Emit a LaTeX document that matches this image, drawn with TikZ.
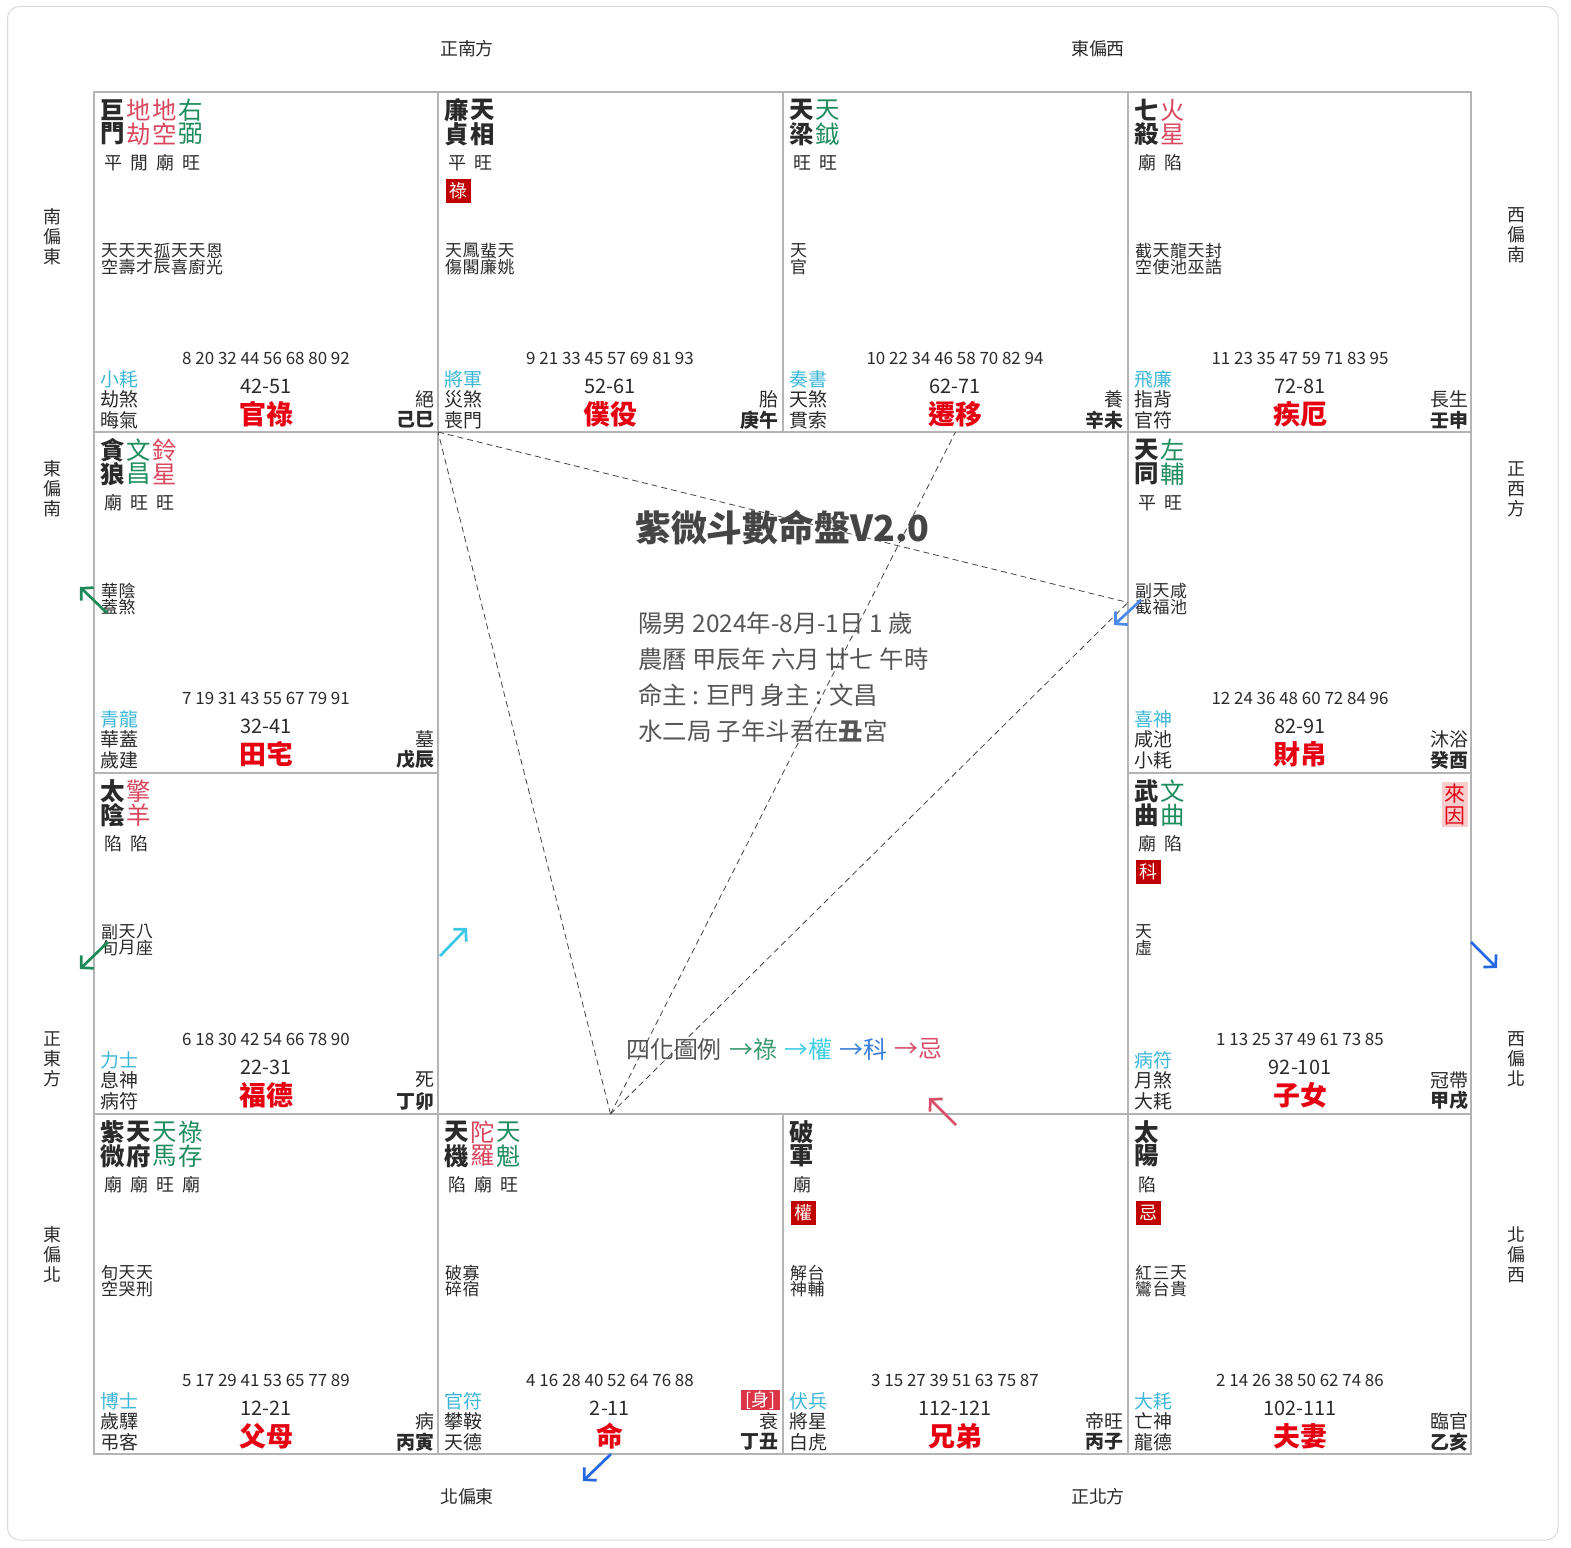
\documentclass[tikz,border=0pt]{standalone}
\usepackage{fontspec}
\setmainfont{Noto Sans CJK TC}
\usetikzlibrary{arrows.meta}
\definecolor{gridc}{HTML}{B4B4B4}
\definecolor{framec}{HTML}{DADADA}
\definecolor{txtc}{HTML}{2A2A2A}
\definecolor{badc}{HTML}{D9475F}
\definecolor{goodc}{HTML}{1E8C5C}
\definecolor{boshic}{HTML}{3DB6D6}
\definecolor{palc}{HTML}{E60012}
\definecolor{huac}{HTML}{C00000}
\definecolor{shenc}{HTML}{DC3545}
\definecolor{laiyinc}{HTML}{F8CDCD}
\definecolor{infoc}{HTML}{555555}
\definecolor{titlec}{HTML}{454545}
\definecolor{dashc}{HTML}{444444}
\definecolor{arrgreen}{HTML}{1E8A5C}
\definecolor{arrcyan}{HTML}{3CC8E6}
\definecolor{arrblue}{HTML}{2468E0}
\definecolor{arrblue2}{HTML}{4A8AE8}
\definecolor{arrpink}{HTML}{D6506A}
\definecolor{lgreen}{HTML}{3A9A6E}
\definecolor{lcyan}{HTML}{40CDE4}
\definecolor{lblue}{HTML}{3B7DD8}
\newcommand\fsz[1]{\fontsize{#1}{#1}\selectfont}
\newcommand\StarCol[5]{%
  \node[#3] (#1t) at ({19+26*#2},18) {#4};
  \node[#3] (#1b) at ({19+26*#2},42) {#5};}
\newcommand\Bright[3]{\node[brightst] (#1) at ({19+26*#2},71) {#3};}
\newcommand\MinorCol[4]{%
  \node[minorst] (#1t) at ({15.5+17.5*#2},159) {#3};
  \node[minorst] (#1b) at ({15.5+17.5*#2},175) {#4};}
\newcommand\Hua[2]{\node[huabox] (#1) at (20,99) {#2};}
\newcommand\Bottom[9]{%
  \node[agest] (#1age) at (172,266) {#2};
  \node[rangest] (#1rng) at (172,294) {#3};
  \node[pnamest] (#1pn) at (172,322) {#4};
  \node[boshist] (#1bs) at (6,287) {#5};
  \node[suist] (#1sa) at (6,307) {#6};
  \node[suist] (#1sb) at (6,328) {#7};
  \node[csst] (#1cs) at (341,307) {#8};
  \node[gzst] (#1gz) at (341,328) {#9};}
\begin{document}
\begin{tikzpicture}[x=1bp,y=-1bp,
  every node/.style={inner sep=0pt, text=txtc},
  mainst/.style={font=\fsz{24.5}\bfseries, text=txtc},
  badst/.style={font=\fsz{24.5}, text=badc},
  goodst/.style={font=\fsz{24.5}, text=goodc},
  brightst/.style={font=\fsz{18}},
  minorst/.style={font=\fsz{17}},
  agest/.style={font=\fsz{17}},
  rangest/.style={font=\fsz{20}},
  pnamest/.style={font=\fsz{27}\bfseries, text=palc},
  boshist/.style={font=\fsz{19}, text=boshic, anchor=west},
  suist/.style={font=\fsz{19}, anchor=west},
  csst/.style={font=\fsz{19}, anchor=east},
  gzst/.style={font=\fsz{19}\bfseries, anchor=east},
  huabox/.style={fill=huac, text=white, font=\fsz{18}, minimum width=25bp, minimum height=24bp},
  dirst/.style={font=\fsz{18}},
  dirv/.style={font={\fontsize{18}{20}\selectfont}, align=center},
  gridln/.style={draw=gridc, line width=1.1bp},
  dashln/.style={draw=dashc, line width=0.8bp, dash pattern=on 6bp off 4bp},
  flyarr/.style={line width=2.7bp, -{Straight Barb[length=8.5bp,width=18bp]}},
  infost/.style={font=\fsz{24.5}, text=infoc, anchor=west},
  legst/.style={font=\fsz{24}, anchor=west}
]
\useasboundingbox (0,0) rectangle (1571,1548);
\draw[framec, line width=1bp, rounded corners=12bp] (7.5,6.5) rectangle (1558,1540);

% grid
\draw[gridln] (94,92) rectangle (1471,1454);
\draw[gridln] (438,92) -- (438,1454);
\draw[gridln] (1128,92) -- (1128,1454);
\draw[gridln] (783,92) -- (783,432);
\draw[gridln] (783,1114) -- (783,1454);
\draw[gridln] (94,432) -- (1471,432);
\draw[gridln] (94,1114) -- (1471,1114);
\draw[gridln] (94,773) -- (438,773);
\draw[gridln] (1128,773) -- (1471,773);

% direction labels
\node[dirst] (dn1) at (467,49) {正南方};
\node[dirst] (dn2) at (1098,49) {東偏西};
\node[dirst] (ds1) at (467,1497) {北偏東};
\node[dirst] (ds2) at (1098,1497) {正北方};
\node[dirv] (dl1) at (52,237) {南\\偏\\東};
\node[dirv] (dl2) at (52,489) {東\\偏\\南};
\node[dirv] (dl3) at (52,1059) {正\\東\\方};
\node[dirv] (dl4) at (52,1255) {東\\偏\\北};
\node[dirv] (dr1) at (1516,235) {西\\偏\\南};
\node[dirv] (dr2) at (1516,489) {正\\西\\方};
\node[dirv] (dr3) at (1516,1059) {西\\偏\\北};
\node[dirv] (dr4) at (1516,1255) {北\\偏\\西};

% ===== palace 官祿 (row0,col0)
\begin{scope}[shift={(94,92)}]
\StarCol{gla}{0}{mainst}{巨}{門}
\StarCol{glb}{1}{badst}{地}{劫}
\StarCol{glc}{2}{badst}{地}{空}
\StarCol{gld}{3}{goodst}{右}{弼}
\Bright{glra}{0}{平}\Bright{glrb}{1}{閒}\Bright{glrc}{2}{廟}\Bright{glrd}{3}{旺}
\MinorCol{glma}{0}{天}{空}\MinorCol{glmb}{1}{天}{壽}\MinorCol{glmc}{2}{天}{才}
\MinorCol{glmd}{3}{孤}{辰}\MinorCol{glme}{4}{天}{喜}\MinorCol{glmf}{5}{天}{廚}
\MinorCol{glmg}{6}{恩}{光}
\Bottom{gl}{8 20 32 44 56 68 80 92}{42-51}{官祿}{小耗}{劫煞}{晦氣}{絕}{己巳}
\end{scope}

% ===== palace 僕役 (row0,col1)
\begin{scope}[shift={(438,92)}]
\StarCol{pya}{0}{mainst}{廉}{貞}
\StarCol{pyb}{1}{mainst}{天}{相}
\Bright{pyra}{0}{平}\Bright{pyrb}{1}{旺}
\Hua{pyh}{祿}
\MinorCol{pyma}{0}{天}{傷}\MinorCol{pymb}{1}{鳳}{閣}\MinorCol{pymc}{2}{蜚}{廉}
\MinorCol{pymd}{3}{天}{姚}
\Bottom{py}{9 21 33 45 57 69 81 93}{52-61}{僕役}{將軍}{災煞}{喪門}{胎}{庚午}
\end{scope}

% ===== palace 遷移 (row0,col2)
\begin{scope}[shift={(783,92)}]
\StarCol{qya}{0}{mainst}{天}{梁}
\StarCol{qyb}{1}{goodst}{天}{鉞}
\Bright{qyra}{0}{旺}\Bright{qyrb}{1}{旺}
\MinorCol{qyma}{0}{天}{官}
\Bottom{qy}{10 22 34 46 58 70 82 94}{62-71}{遷移}{奏書}{天煞}{貫索}{養}{辛未}
\end{scope}

% ===== palace 疾厄 (row0,col3)
\begin{scope}[shift={(1128,92)}]
\StarCol{jea}{0}{mainst}{七}{殺}
\StarCol{jeb}{1}{badst}{火}{星}
\Bright{jera}{0}{廟}\Bright{jerb}{1}{陷}
\MinorCol{jema}{0}{截}{空}\MinorCol{jemb}{1}{天}{使}\MinorCol{jemc}{2}{龍}{池}
\MinorCol{jemd}{3}{天}{巫}\MinorCol{jeme}{4}{封}{誥}
\Bottom{je}{11 23 35 47 59 71 83 95}{72-81}{疾厄}{飛廉}{指背}{官符}{長生}{壬申}
\end{scope}

% ===== palace 田宅 (row1,col0)
\begin{scope}[shift={(94,432)}]
\StarCol{tza}{0}{mainst}{貪}{狼}
\StarCol{tzb}{1}{goodst}{文}{昌}
\StarCol{tzc}{2}{badst}{鈴}{星}
\Bright{tzra}{0}{廟}\Bright{tzrb}{1}{旺}\Bright{tzrc}{2}{旺}
\MinorCol{tzma}{0}{華}{蓋}\MinorCol{tzmb}{1}{陰}{煞}
\Bottom{tz}{7 19 31 43 55 67 79 91}{32-41}{田宅}{青龍}{華蓋}{歲建}{墓}{戊辰}
\end{scope}

% ===== palace 財帛 (row1,col3)
\begin{scope}[shift={(1128,432)}]
\StarCol{cba}{0}{mainst}{天}{同}
\StarCol{cbb}{1}{goodst}{左}{輔}
\Bright{cbra}{0}{平}\Bright{cbrb}{1}{旺}
\MinorCol{cbma}{0}{副}{截}\MinorCol{cbmb}{1}{天}{福}\MinorCol{cbmc}{2}{咸}{池}
\Bottom{cb}{12 24 36 48 60 72 84 96}{82-91}{財帛}{喜神}{咸池}{小耗}{沐浴}{癸酉}
\end{scope}

% ===== palace 福德 (row2,col0)
\begin{scope}[shift={(94,773)}]
\StarCol{fda}{0}{mainst}{太}{陰}
\StarCol{fdb}{1}{badst}{擎}{羊}
\Bright{fdra}{0}{陷}\Bright{fdrb}{1}{陷}
\MinorCol{fdma}{0}{副}{旬}\MinorCol{fdmb}{1}{天}{月}\MinorCol{fdmc}{2}{八}{座}
\Bottom{fd}{6 18 30 42 54 66 78 90}{22-31}{福德}{力士}{息神}{病符}{死}{丁卯}
\end{scope}

% ===== palace 子女 (row2,col3)
\begin{scope}[shift={(1128,773)}]
\StarCol{zna}{0}{mainst}{武}{曲}
\StarCol{znb}{1}{goodst}{文}{曲}
\Bright{znra}{0}{廟}\Bright{znrb}{1}{陷}
\Hua{znh}{科}
\MinorCol{znma}{0}{天}{虛}
\node[fill=laiyinc, text=palc, font={\fontsize{21}{22}\selectfont}, align=center,
  minimum width=26bp, minimum height=45bp] (laiyin) at (327,31.5) {來\\因};
\Bottom{zn}{1 13 25 37 49 61 73 85}{92-101}{子女}{病符}{月煞}{大耗}{冠帶}{甲戌}
\end{scope}

% ===== palace 父母 (row3,col0)
\begin{scope}[shift={(94,1114)}]
\StarCol{fma}{0}{mainst}{紫}{微}
\StarCol{fmb}{1}{mainst}{天}{府}
\StarCol{fmc}{2}{goodst}{天}{馬}
\StarCol{fmd}{3}{goodst}{祿}{存}
\Bright{fmra}{0}{廟}\Bright{fmrb}{1}{廟}\Bright{fmrc}{2}{旺}\Bright{fmrd}{3}{廟}
\MinorCol{fmma}{0}{旬}{空}\MinorCol{fmmb}{1}{天}{哭}\MinorCol{fmmc}{2}{天}{刑}
\Bottom{fm}{5 17 29 41 53 65 77 89}{12-21}{父母}{博士}{歲驛}{弔客}{病}{丙寅}
\end{scope}

% ===== palace 命 (row3,col1)
\begin{scope}[shift={(438,1114)}]
\StarCol{mga}{0}{mainst}{天}{機}
\StarCol{mgb}{1}{badst}{陀}{羅}
\StarCol{mgc}{2}{goodst}{天}{魁}
\Bright{mgra}{0}{陷}\Bright{mgrb}{1}{廟}\Bright{mgrc}{2}{旺}
\MinorCol{mgma}{0}{破}{碎}\MinorCol{mgmb}{1}{寡}{宿}
\node[fill=shenc, text=white, font=\fsz{18}, minimum width=39bp, minimum height=20bp] (shen) at (322.5,286) {[身]};
\Bottom{mg}{4 16 28 40 52 64 76 88}{2-11}{命}{官符}{攀鞍}{天德}{衰}{丁丑}
\end{scope}

% ===== palace 兄弟 (row3,col2)
\begin{scope}[shift={(783,1114)}]
\StarCol{xda}{0}{mainst}{破}{軍}
\Bright{xdra}{0}{廟}
\Hua{xdh}{權}
\MinorCol{xdma}{0}{解}{神}\MinorCol{xdmb}{1}{台}{輔}
\Bottom{xd}{3 15 27 39 51 63 75 87}{112-121}{兄弟}{伏兵}{將星}{白虎}{帝旺}{丙子}
\end{scope}

% ===== palace 夫妻 (row3,col3)
\begin{scope}[shift={(1128,1114)}]
\StarCol{fqa}{0}{mainst}{太}{陽}
\Bright{fqra}{0}{陷}
\Hua{fqh}{忌}
\MinorCol{fqma}{0}{紅}{鸞}\MinorCol{fqmb}{1}{三}{台}\MinorCol{fqmc}{2}{天}{貴}
\Bottom{fq}{2 14 26 38 50 62 74 86}{102-111}{夫妻}{大耗}{亡神}{龍德}{臨官}{乙亥}
\end{scope}

% ===== center
\node[font=\fsz{36}\bfseries, text=titlec, anchor=west] (title) at (635,528) {紫微斗數命盤V2.0};
\node[infost] (info1) at (638,623) {陽男 2024年-8月-1日 1 歲};
\node[infost] (info2) at (638,659) {農曆 甲辰年 六月 廿七 午時};
\node[infost] (info3) at (638,695) {命主 : 巨門 身主 : 文昌};
\node[infost] (info4) at (638,731) {水二局 子年斗君在\textbf{丑}宮};
\node[legst, text=infoc] (leg0) at (626,1049) {四化圖例};
\node[legst, text=lgreen] (leg1) at (729,1049) {→祿};
\node[legst, text=lcyan] (leg2) at (784,1049) {→權};
\node[legst, text=lblue] (leg3) at (839,1049) {→科};
\node[legst, text=arrpink] (leg4) at (894,1049) {→忌};

% ===== triangle dashed lines
\coordinate (ming) at (610.5,1114);
\coordinate (guanlu) at (438,432);
\coordinate (qianyi) at (955.5,432);
\coordinate (caibo) at (1128,602.5);
\draw[dashln] (ming) -- (guanlu);
\draw[dashln] (ming) -- (qianyi);
\draw[dashln] (ming) -- (caibo);
\draw[dashln] (guanlu) -- (caibo);

% ===== flying arrows
\coordinate (g1s) at (107,613); \coordinate (g1e) at (80,587);
\coordinate (g2s) at (108,942); \coordinate (g2e) at (80,969);
\coordinate (c1s) at (440,956); \coordinate (c1e) at (467,928);
\coordinate (b1s) at (1141,600); \coordinate (b1e) at (1114,625);
\coordinate (b2s) at (1471,942); \coordinate (b2e) at (1497,968);
\coordinate (b3s) at (611,1454); \coordinate (b3e) at (583,1481);
\coordinate (r1s) at (956,1125); \coordinate (r1e) at (929,1098);
\draw[flyarr, arrgreen] (g1s) -- (g1e);
\draw[flyarr, arrgreen] (g2s) -- (g2e);
\draw[flyarr, arrcyan] (c1s) -- (c1e);
\draw[flyarr, arrblue2] (b1s) -- (b1e);
\draw[flyarr, arrblue] (b2s) -- (b2e);
\draw[flyarr, arrblue] (b3s) -- (b3e);
\draw[flyarr, arrpink] (r1s) -- (r1e);
\end{tikzpicture}
\end{document}
